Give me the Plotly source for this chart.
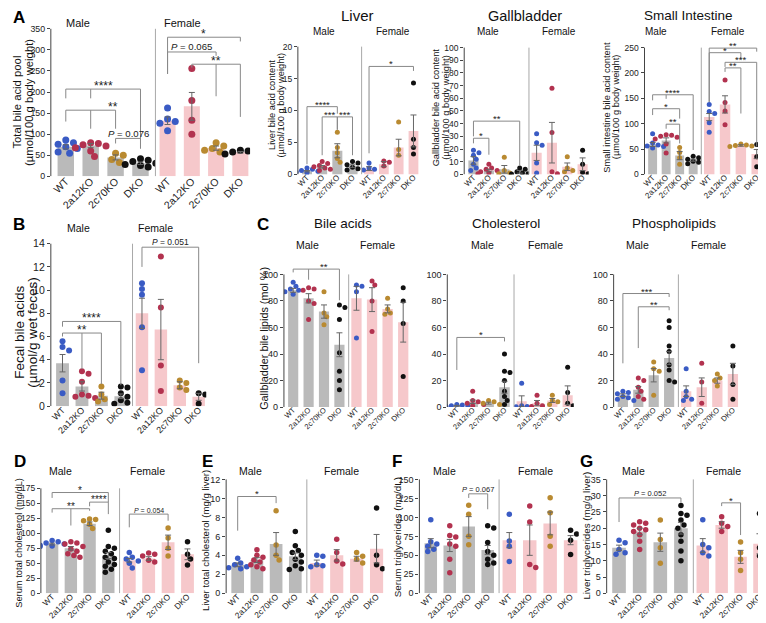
import plotly.graph_objects as go

W, H = 766, 623
FONT = "Liberation Sans, Arial, Helvetica, sans-serif"

GROUPS = ["WT", "2a12KO", "2c70KO", "DKO"]
DOT_COLORS = ["#3a5bc4", "#b2324f", "#b98a31", "#111111"]
BAR_COLORS = {"M": "#bababa", "F": "#f6c8cb"}

# ---------------- data ----------------
# A: total bile acid pool
A_M_MEAN = [70, 73, 45, 31]
A_M_SEM = [5, 5, 6, 3]
A_M_PTS = [[86, 80, 76, 70, 66, 58, 55], [80, 78, 75, 72, 68, 60, 47], [55, 50, 40, 33], [42, 38, 35, 31, 28, 26, 22]]
A_F_MEAN = [132, 166, 67, 57]
A_F_SEM = [9, 33, 5, 2]
A_F_PTS = [[162, 136, 130, 126, 108], [256, 180, 133, 100], [80, 72, 66, 62, 58], [62, 60, 58, 55, 53]]
# Liver bile acid content
L_M_MEAN = [0.5, 1.2, 3.7, 1.3]
L_M_SEM = [0.1, 0.2, 1.1, 0.2]
L_M_PTS = [[1.0, 0.8, 0.6, 0.5, 0.4, 0.3, 0.2], [2.0, 1.7, 1.4, 1.2, 1.0, 0.8, 0.6], [6.6, 4.2, 3.4, 2.5, 1.9], [2.0, 1.8, 1.5, 1.3, 1.1, 0.9, 0.7]]
L_F_MEAN = [0.9, 1.6, 4.2, 6.8]
L_F_SEM = [0.3, 0.4, 1.3, 2.5]
L_F_PTS = [[1.8, 1.0, 0.8, 0.7], [2.1, 1.9, 1.3], [8.2, 3.9, 3.0], [14.3, 5.5, 4.2, 3.2]]
# Gallbladder bile acid content
GB_M_MEAN = [11, 3, 4, 2]
GB_M_SEM = [3, 1, 3, 1]
GB_M_PTS = [[19, 17, 15, 12, 8, 5, 3], [8, 5, 4, 3, 2, 1, 0.5], [13.5, 3, 1, 0.5], [5, 4, 2, 1, 0.5, 0.3]]
GB_F_MEAN = [17, 25, 6, 8]
GB_F_SEM = [6, 16, 3, 5]
GB_F_PTS = [[32, 25, 23, 9, 1], [68, 33, 2, 0.5], [14, 5, 3, 2], [19, 8, 1.5, 0.5]]
# Small intestine bile acid content
SI_M_MEAN = [59, 67, 37, 28]
SI_M_SEM = [4, 5, 8, 2]
SI_M_PTS = [[80, 62, 58, 56, 55, 52], [78, 77, 75, 73, 70, 60, 42], [53, 43, 33, 20], [36, 33, 30, 28, 26, 24, 21]]
SI_F_MEAN = [113, 138, 57, 40]
SI_F_SEM = [7, 17, 1.5, 9]
SI_F_PTS = [[138, 124, 120, 102, 83], [186, 142, 125, 98], [60, 58, 57, 56, 55], [59, 53, 35, 15]]
# B: fecal bile acids
B_M_MEAN = [3.7, 1.7, 0.9, 0.85]
B_M_SEM = [0.75, 0.4, 0.3, 0.2]
B_M_PTS = [[5.6, 5.1, 4.8, 2.2, 1.1], [3.0, 2.8, 2.1, 1.0, 0.9, 0.8, 0.7], [1.7, 1.0, 0.6, 0.4], [1.7, 1.6, 1.1, 0.8, 0.5, 0.3, 0.2]]
B_F_MEAN = [8.0, 6.6, 1.8, 0.8]
B_F_SEM = [1.3, 2.6, 0.3, 0.3]
B_F_PTS = [[10.6, 10.1, 9.6, 6.8, 3.1], [12.9, 8.5, 3.5, 1.3], [2.2, 2.0, 1.6, 1.4], [1.1, 1.0, 0.2]]
# C: gallbladder bile lipids - bile acids
CBA_M_MEAN = [88, 82, 72, 47]
CBA_M_SEM = [1.5, 3.5, 5, 9]
CBA_M_PTS = [[94, 91, 89, 88, 87, 85], [90, 89, 88, 80, 78, 66], [87, 71, 68, 62], [77, 75, 66, 41, 27, 20, 13]]
CBA_F_MEAN = [82, 81, 74, 64]
CBA_F_SEM = [9, 9, 3, 15]
CBA_F_PTS = [[92, 91, 87, 52], [95, 92, 80, 57], [82, 74, 71, 70], [90, 80, 63, 23]]
# C: cholesterol
CCH_M_MEAN = [1, 4, 3, 15]
CCH_M_SEM = [0.3, 1.3, 0.7, 4.5]
CCH_M_PTS = [[2, 1.5, 1, 1, 0.5, 0.5], [12, 5, 4, 3, 2, 1], [5, 4, 3, 2], [40, 27, 26, 20, 12, 8, 5, 2]]
CCH_F_MEAN = [4.5, 3, 5, 9]
CCH_F_SEM = [4, 2, 1.5, 7]
CCH_F_PTS = [[18, 1, 0.5, 0.3], [9, 3, 1, 0.5], [9, 5, 4, 2], [30, 11, 3, 1]]
# C: phospholipids
CPL_M_MEAN = [9, 13, 24, 37]
CPL_M_SEM = [1, 2.5, 5, 5]
CPL_M_PTS = [[12, 11, 10, 8, 7, 6, 5], [22, 20, 15, 12, 8, 6], [34, 29, 27, 9], [65, 60, 46, 42, 32, 28, 20, 19]]
CPL_F_MEAN = [12, 15, 20, 25]
CPL_F_SEM = [4, 7, 2, 8]
CPL_F_PTS = [[29, 12, 8, 6, 5], [33, 19, 3], [25, 22, 20, 16], [46, 31, 17, 6]]
# D: serum total cholesterol
D_M_MEAN = [82, 75, 116, 63]
D_M_SEM = [1.5, 3, 3, 5]
D_M_PTS = [[88, 86, 84, 82, 80, 79, 78], [86, 84, 82, 78, 74, 70, 66, 63, 60], [124, 123, 121, 115, 108], [105, 78, 75, 70, 66, 60, 58, 52, 48, 45, 40, 35]]
D_F_MEAN = [55, 58, 85, 65]
D_F_SEM = [3, 3, 12, 9]
D_F_PTS = [[68, 60, 57, 54, 50, 42], [67, 65, 62, 55, 52], [109, 92, 75, 62], [86, 65, 57, 47]]
# E: liver total cholesterol
E_M_MEAN = [3.0, 3.5, 5.2, 3.9]
E_M_SEM = [0.2, 0.25, 1.2, 0.35]
E_M_PTS = [[3.7, 3.2, 3.0, 2.8, 2.7, 2.6], [4.6, 4.0, 3.8, 3.5, 3.3, 3.0, 2.8, 2.6], [8.7, 5.1, 4.0, 3.5], [6.5, 5.0, 4.5, 4.3, 4.0, 3.6, 3.3, 2.9, 2.6, 2.5]]
E_F_MEAN = [3.2, 4.0, 3.65, 4.7]
E_F_SEM = [0.3, 0.6, 0.25, 1.5]
E_F_PTS = [[4.0, 3.9, 3.0, 2.9, 2.8], [5.7, 4.3, 3.4, 3.1], [4.3, 3.9, 3.6, 3.2], [9.0, 4.0, 3.0, 2.6]]
# F: serum triglycerides
F_M_MEAN = [66, 63, 88, 57]
F_M_SEM = [6, 8, 13, 6]
F_M_PTS = [[97, 68, 65, 62, 58, 55], [89, 76, 74, 65, 62, 45, 27], [116, 104, 75, 64], [89, 86, 67, 55, 50, 45, 40, 38]]
F_F_MEAN = [70, 70, 92, 70]
F_F_SEM = [10, 20, 15, 6]
F_F_PTS = [[104, 69, 62, 42], [115, 94, 38, 34], [126, 106, 75, 62], [83, 78, 70, 51]]
# G: liver triglycerides
G_M_MEAN = [14, 19, 15.7, 20]
G_M_SEM = [0.8, 1.0, 2.8, 1.8]
G_M_PTS = [[16.3, 15.5, 13.5, 12.5, 12.0], [22, 21.5, 21, 20, 19.5, 19, 18, 16, 13.5], [22.5, 16.5, 14, 9.2], [27, 24.5, 24, 22.5, 21, 20, 18, 16, 13, 10]]
G_F_MEAN = [14.7, 21, 11.2, 15.2]
G_F_SEM = [2.1, 1.0, 2.0, 3.1]
G_F_PTS = [[22.6, 15, 14, 12.5, 11.5], [23.5, 21.5, 20.5, 19], [15.8, 12.5, 10.5, 7], [24.5, 14, 13, 11.5]]

# significance brackets: (panel, sex, left group, right group, level, label, legs [(group, bottom)], label x)
SIG = [
    ("A", "M", 0, 3, 207, "****", [(0, 185), (1, 185), (3, 66)], None),
    ("A", "M", 0, 2, 157, "**", [(0, 130), (1, 113), (2, 113)], 1.9),
    ("A", "M", 2, 3, 90, "<i>P</i> = 0.076", [(2, 78), (3, 66)], None),
    ("A", "F", 0, 3, 330, "*", [(0, 243), (3, 320)], None),
    ("A", "F", 0, 2, 295, "<i>P</i> = 0.065", [(0, 243), (2, 286)], None),
    ("A", "F", 1, 3, 266, "**", [(1, 258), (2, 190), (3, 141)], None),
    ("L", "M", 0, 2, 10.6, "****", [(0, 1.6), (2, 9.5)], None),
    ("L", "M", 1, 2, 9.0, "***", [(1, 3.0), (2, 7.0)], None),
    ("L", "M", 2, 3, 9.0, "***", [(2, 7.0), (3, 3.0)], None),
    ("L", "F", 0, 3, 16.9, "*", [(0, 3.3), (3, 16.2)], None),
    ("GB", "M", 0, 3, 42, "**", [(0, 30), (3, 7)], None),
    ("GB", "M", 0, 1, 28.5, "*", [(0, 24.5), (1, 15.5)], None),
    ("SI", "M", 0, 3, 157, "****", [(0, 146), (1, 149), (3, 48)], None),
    ("SI", "M", 0, 2, 129.5, "*", [(0, 117), (2, 110)], None),
    ("SI", "M", 1, 2, 99, "**", [(1, 90), (2, 61)], None),
    ("SI", "F", 0, 3, 249, "**", [(0, 143), (3, 242)], None),
    ("SI", "F", 0, 2, 240, "*", [(0, 143), (2, 227)], None),
    ("SI", "F", 1, 3, 221, "***", [(1, 212), (3, 55)], None),
    ("SI", "F", 1, 2, 210, "**", [(1, 202), (2, 120)], None),
    ("B", "M", 0, 3, 7.3, "****", [(0, 6.85), (3, 1.8)], None),
    ("B", "M", 0, 2, 6.3, "**", [(0, 6.0), (1, 3.2), (2, 1.9)], None),
    ("B", "F", 0, 3, 13.7, "<i>P</i> = 0.051", [(0, 12.0), (3, 3.7)], None),
    ("CBA", "M", 0, 3, 104, "**", [(0, 101.5), (1, 96), (3, 80.5)], 2.0),
    ("CCH", "M", 0, 3, 52.5, "*", [(0, 28), (3, 49.5)], None),
    ("CPL", "M", 0, 3, 85.6, "***", [(0, 33), (3, 83)], None),
    ("CPL", "M", 1, 3, 75.6, "**", [(1, 44.5), (3, 73)], None),
    ("D", "M", 0, 3, 168, "*", [(0, 159), (3, 152)], None),
    ("D", "M", 0, 2, 141, "**", [(0, 134.5), (1, 113), (2, 137.6)], None),
    ("D", "M", 2, 3, 152, "****", [(2, 145), (3, 132)], None),
    ("D", "F", 0, 2, 132, "<i>P</i> = 0.054", [(0, 110), (2, 121)], None),
    ("E", "M", 0, 2, 10.2, "*", [(0, 6.6), (2, 9.5)], None),
    ("F", "M", 2, 3, 131, "<i>P</i> = 0.067", [(2, 125.6), (3, 110.7)], None),
    ("G", "M", 0, 3, 29.3, "<i>P</i> = 0.052", [(0, 21.9), (3, 27.9)], None),
    ("G", "F", 1, 2, 27.8, "*", [(1, 26.8), (2, 17.9)], None),
]

# ---------------- layout of panels (pixel positions) ----------------
PANELS = [
    dict(key="A", axis=40, div=145, end=240, top=21, bot=170, ytop=350, dtick=50,
         M=(A_M_MEAN, A_M_SEM, A_M_PTS), F=(A_F_MEAN, A_F_SEM, A_F_PTS),
         ytf=8.8, xtf=10.5, dot=7, ast=12, pf=9.6,
         ylab=[("Total bile acid pool", 6.5), ("(µmol/100 g body weight)", 18)], yly=95, ylf=11.3,
         sub=(67, 172, 15, 11)),
    dict(key="L", axis=288, div=352, end=410, top=39, bot=168, ytop=20, dtick=5,
         M=(L_M_MEAN, L_M_SEM, L_M_PTS), F=(L_F_MEAN, L_F_SEM, L_F_PTS),
         ytf=8.5, xtf=8, dot=5, ast=9.5, pf=8,
         ylab=[("Liver bile acid content", 262), ("(µmol/100 g body weight)", 271.5)], yly=98, ylf=9.3,
         sub=(314, 384, 24, 10)),
    dict(key="GB", axis=455, div=520, end=580, top=40, bot=168, ytop=100, dtick=10,
         M=(GB_M_MEAN, GB_M_SEM, GB_M_PTS), F=(GB_F_MEAN, GB_F_SEM, GB_F_PTS),
         ytf=8.5, xtf=8, dot=5, ast=9.5, pf=8,
         ylab=[("Gallbladder bile acid content", 427), ("(µmol/100 g body weight)", 436.5)], yly=100, ylf=9.3,
         sub=(479, 550, 24, 10)),
    dict(key="SI", axis=636, div=693, end=755, top=40, bot=168, ytop=250, dtick=50,
         M=(SI_M_MEAN, SI_M_SEM, SI_M_PTS), F=(SI_F_MEAN, SI_F_SEM, SI_F_PTS),
         ytf=8.5, xtf=8, dot=5, ast=9.5, pf=8,
         ylab=[("Small intestine bile acid content", 598), ("(µmol/100 g body weight)", 607.5)], yly=100, ylf=9.3,
         sub=(648, 720, 24, 10)),
    dict(key="B", axis=40, div=122, end=196, top=238, bot=402, ytop=14, dtick=2,
         M=(B_M_MEAN, B_M_SEM, B_M_PTS), F=(B_F_MEAN, B_F_SEM, B_F_PTS),
         ytf=10.5, xtf=9, dot=6, ast=12, pf=8.5,
         ylab=[("Fecal bile acids", 9), ("(µmol/g wet feces)", 22)], yly=327, ylf=13.5,
         sub=(68, 145, 222, 10.5)),
    dict(key="CBA", axis=274, div=339, end=400, top=269, bot=403, ytop=100, dtick=20,
         M=(CBA_M_MEAN, CBA_M_SEM, CBA_M_PTS), F=(CBA_F_MEAN, CBA_F_SEM, CBA_F_PTS),
         ytf=9, xtf=7.5, dot=5, ast=9.5, pf=8,
         ylab=[("Gallbladder bile lipids (mol %)", 254)], yly=334, ylf=10.8,
         sub=(298, 368, 239, 10.5)),
    dict(key="CCH", axis=438, div=505, end=565, top=269, bot=403, ytop=100, dtick=20,
         M=(CCH_M_MEAN, CCH_M_SEM, CCH_M_PTS), F=(CCH_F_MEAN, CCH_F_SEM, CCH_F_PTS),
         ytf=9, xtf=7.5, dot=5, ast=9.5, pf=8,
         ylab=None, sub=(473, 537, 239, 10.5)),
    dict(key="CPL", axis=605, div=670, end=731, top=269, bot=403, ytop=100, dtick=20,
         M=(CPL_M_MEAN, CPL_M_SEM, CPL_M_PTS), F=(CPL_F_MEAN, CPL_F_SEM, CPL_F_PTS),
         ytf=9, xtf=7.5, dot=5, ast=9.5, pf=8,
         ylab=None, sub=(629, 700, 239, 10.5)),
    dict(key="D", axis=30, div=109, end=185, top=485, bot=591, ytop=175, dtick=25,
         M=(D_M_MEAN, D_M_SEM, D_M_PTS), F=(D_F_MEAN, D_F_SEM, D_F_PTS),
         ytf=8.5, xtf=8.3, dot=5.5, ast=10, pf=7,
         ylab=[("Serum total cholesterol (mg/dL)", 8)], yly=540, ylf=9.3,
         sub=(50, 137, 468, 10.5)),
    dict(key="E", axis=216, div=297, end=375, top=476, bot=591, ytop=12, dtick=2,
         M=(E_M_MEAN, E_M_SEM, E_M_PTS), F=(E_F_MEAN, E_F_SEM, E_F_PTS),
         ytf=9, xtf=8.3, dot=5.5, ast=9.5, pf=7,
         ylab=[("Liver total cholesterol (mg/g liver)", 196)], yly=538, ylf=9.6,
         sub=(240, 332, 468, 10.5)),
    dict(key="F", axis=410, div=490, end=570, top=476, bot=591, ytop=150, dtick=25,
         M=(F_M_MEAN, F_M_SEM, F_M_PTS), F=(F_F_MEAN, F_F_SEM, F_F_PTS),
         ytf=9, xtf=8.3, dot=5.5, ast=9.5, pf=7.5,
         ylab=[("Serum triglycerides (mg/dL)", 388)], yly=534, ylf=9.8,
         sub=(435, 527, 468, 10.5)),
    dict(key="G", axis=598, div=685, end=759, top=476, bot=591, ytop=35, dtick=5,
         M=(G_M_MEAN, G_M_SEM, G_M_PTS), F=(G_F_MEAN, G_F_SEM, G_F_PTS),
         ytf=9, xtf=8.3, dot=5.5, ast=9.5, pf=7.5,
         ylab=[("Liver triglycerides (mg/g liver)", 578)], yly=533, ylf=9.8,
         sub=(625, 715, 468, 10.5)),
]

TITLES = [("Liver", 348, 8, 15), ("Gallbladder", 516, 8, 14.5), ("Small Intestine", 680, 8, 13.5),
          ("Bile acids", 333, 218, 13.5), ("Cholesterol", 497, 218, 13.5), ("Phospholipids", 666, 218, 13.5)]
LETTERS = [("A", 8, 10), ("B", 8, 219), ("C", 253, 219), ("D", 9, 458), ("E", 197, 458), ("F", 388, 458), ("G", 578, 458)]

XR = {"M": [-0.6, 3.6], "F": [-0.5, 3.4]}
HEAD = 14  # extra px above top tick for brackets


def px_x(p):
    return p / W


def px_y(p):
    return 1 - p / H


def swarm(values, xs, ys, d):
    order = sorted(range(len(values)), key=lambda i: -values[i])
    placed = []
    offs = [0.0] * len(values)
    for i in order:
        ypx = values[i] * ys
        xpx = 0.0
        for k in [0, 1, -1, 2, -2, 3, -3, 4, -4]:
            xpx = k * d * 0.55
            if all((xpx - a) ** 2 + (ypx - b) ** 2 >= (d * 0.92) ** 2 for a, b in placed):
                break
        placed.append((xpx, ypx))
        offs[i] = xpx / xs
    return offs


fig = go.Figure()
layout = {}
shapes = []
annotations = []
axis_of = {}

n = 0
for P in PANELS:
    hpx = P["bot"] - P["top"]
    ymax = P["ytop"] * (hpx + HEAD) / hpx
    yscale = hpx / P["ytop"]
    for sex in ("M", "F"):
        n += 1
        xa = "x" if n == 1 else f"x{n}"
        ya = "y" if n == 1 else f"y{n}"
        axis_of[(P["key"], sex)] = (xa, ya)
        if sex == "M":
            x0, x1 = P["axis"], P["div"]
        else:
            x0, x1 = P["div"], P["end"]
        xscale = (x1 - x0) / (XR[sex][1] - XR[sex][0])
        layout["xaxis" if n == 1 else f"xaxis{n}"] = dict(
            domain=[px_x(x0), px_x(x1)], range=XR[sex], anchor=ya,
            tickvals=[0, 1, 2, 3], ticktext=GROUPS, tickangle=-45, ticks="",
            ticklabelstandoff=-4,
            showline=False, showgrid=False, zeroline=False,
            tickfont=dict(size=P["xtf"], color="#222", family=FONT), fixedrange=True)
        layout["yaxis" if n == 1 else f"yaxis{n}"] = dict(
            domain=[px_y(P["bot"]), px_y(P["top"] - HEAD)], range=[0, ymax], anchor=xa,
            tickmode="array", tickvals=list(range(0, int(P["ytop"]) + 1, int(P["dtick"]))),
            ticks="outside" if sex == "M" else "", ticklen=3, tickwidth=1, tickcolor="#444",
            showticklabels=(sex == "M"), showline=False, showgrid=False, zeroline=False,
            tickfont=dict(size=P["ytf"], color="#222", family=FONT), fixedrange=True)
        # axis line / divider
        shapes.append(dict(type="line", xref="paper", yref=ya, x0=px_x(x0), x1=px_x(x0), y0=0, y1=P["ytop"],
                           line=dict(color="#444" if sex == "M" else "#a8a8a8", width=1)))
        mean, sem, pts = P[sex]
        fig.add_trace(go.Bar(x=[0, 1, 2, 3], y=mean, width=0.66, marker=dict(color=BAR_COLORS[sex], line_width=0),
                             xaxis=xa, yaxis=ya, hoverinfo="skip", showlegend=False))
        xs, ys, cs = [], [], []
        for g in range(4):
            offs = swarm(pts[g], xscale, yscale, P["dot"])
            for v, o in zip(pts[g], offs):
                xs.append(g + o)
                ys.append(v)
                cs.append(DOT_COLORS[g])
        fig.add_trace(go.Scatter(x=xs, y=ys, mode="markers", marker=dict(color=cs, size=P["dot"], line_width=0),
                                 xaxis=xa, yaxis=ya, hoverinfo="skip", showlegend=False))
        fig.add_trace(go.Scatter(x=[0, 1, 2, 3], y=mean, mode="markers",
                                 marker=dict(size=1, color="rgba(0,0,0,0)"),
                                 error_y=dict(type="data", array=sem, color="#666", thickness=1, width=3),
                                 xaxis=xa, yaxis=ya, hoverinfo="skip", showlegend=False))
    # labels
    mx, fx, sy, sf = P["sub"]
    for txt, xx in (("Male", mx), ("Female", fx)):
        annotations.append(dict(text=txt, x=px_x(xx), y=px_y(sy), xref="paper", yref="paper",
                                showarrow=False, xanchor="center", yanchor="middle",
                                font=dict(size=sf, color="#111", family=FONT)))
    if P["ylab"]:
        for txt, lxp in P["ylab"]:
            annotations.append(dict(text=txt, x=px_x(lxp), y=px_y(P["yly"]), xref="paper", yref="paper",
                                    showarrow=False, xanchor="center", yanchor="middle", textangle=-90,
                                    font=dict(size=P["ylf"], color="#111", family=FONT)))

pinfo = {P["key"]: P for P in PANELS}
for key, sex, gl, gr, lvl, lab, legs, lx in SIG:
    xa, ya = axis_of[(key, sex)]
    P = pinfo[key]
    shapes.append(dict(type="line", xref=xa, yref=ya, x0=gl, x1=gr, y0=lvl, y1=lvl,
                       line=dict(color="#888", width=1)))
    for g, yb in legs:
        shapes.append(dict(type="line", xref=xa, yref=ya, x0=g, x1=g, y0=lvl, y1=yb,
                           line=dict(color="#888", width=1)))
    isp = lab.startswith("<i>")
    fs = P["pf"] if isp else P["ast"]
    annotations.append(dict(text=lab, x=(gl + gr) / 2 if lx is None else lx, y=lvl, xref=xa, yref=ya,
                            showarrow=False, xanchor="center", yanchor="bottom", borderpad=0,
                            yshift=(-0.15 * fs) if isp else (-0.42 * fs),
                            font=dict(size=fs, color="#222", family=FONT)))

for txt, xx, yy, fs in TITLES:
    annotations.append(dict(text=txt, x=px_x(xx), y=px_y(yy), xref="paper", yref="paper", showarrow=False,
                            xanchor="center", yanchor="middle", font=dict(size=fs, color="#111", family=FONT)))
for txt, xx, yy in LETTERS:
    annotations.append(dict(text=f"<b>{txt}</b>", x=px_x(xx), y=px_y(yy), xref="paper", yref="paper",
                            showarrow=False, xanchor="center", yanchor="middle",
                            font=dict(size=17, color="#000", family=FONT)))

layout.update(dict(width=W, height=H, margin=dict(l=0, r=0, t=0, b=0), paper_bgcolor="white",
                   plot_bgcolor="rgba(0,0,0,0)", showlegend=False, shapes=shapes, annotations=annotations,
                   font=dict(family=FONT), bargap=0.3))
fig.update_layout(**layout)
fig.write_html("out.html", config=dict(displayModeBar=False))
